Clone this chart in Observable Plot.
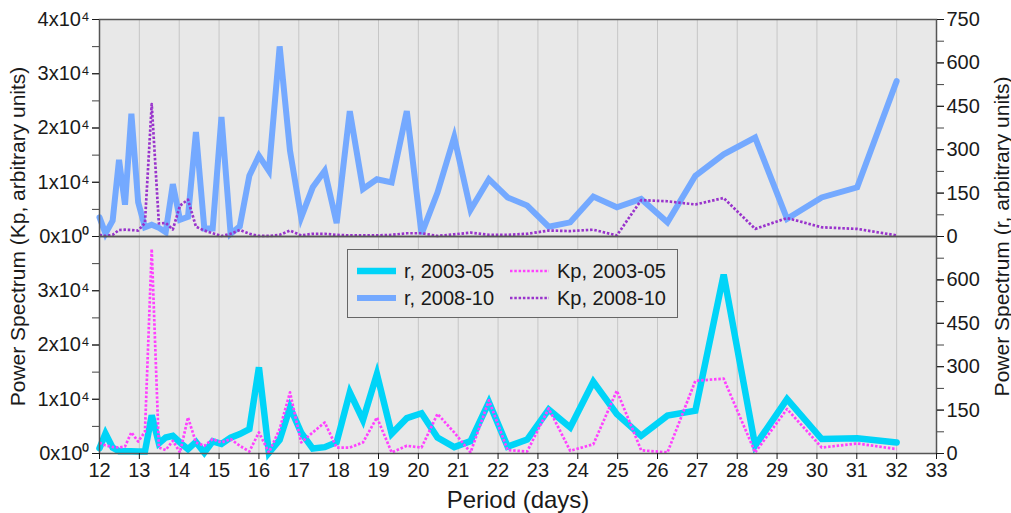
<!DOCTYPE html>
<html>
<head>
<meta charset="utf-8">
<script src="https://cdn.jsdelivr.net/npm/d3@7"></script>
<script src="https://cdn.jsdelivr.net/npm/@observablehq/plot@0.6"></script>
<style>
  html, body { margin: 0; padding: 0; background: #ffffff; }
  #chart { position: relative; width: 1011px; height: 513px; font-family: "Liberation Sans", Arial, sans-serif; color: #1a1a1a; }
  #chart g[aria-label="x-axis label"] { font-size: 24px; }
  #chart g[aria-label="y-axis label"] { font-size: 21px; }
  .legend { position: absolute; left: 347px; top: 249px; width: 331px; height: 69px; box-sizing: border-box;
            border: 1.5px solid #666; background: #e8e8e8; font-size: 20px; }
  .legend .item { position: absolute; display: flex; align-items: center; height: 24px; white-space: nowrap; }
  .legend svg { display: block; margin-right: 8px; }
</style>
</head>
<body>
<div id="chart"></div>
<script>
// Periods (days) at which the spectra were evaluated
const period = [12.00, 12.15, 12.33, 12.49, 12.64, 12.80, 12.97, 13.14, 13.31, 13.49,
  13.66, 13.84, 14.02, 14.22, 14.42, 14.63, 14.84, 15.06, 15.29, 15.52,
  15.76, 16.00, 16.25, 16.52, 16.78, 17.06, 17.35, 17.65, 17.95, 18.28,
  18.61, 18.96, 19.33, 19.71, 20.08, 20.48, 20.90, 21.31, 21.77, 22.24,
  22.73, 23.27, 23.81, 24.39, 24.98, 25.59, 26.25, 26.95, 27.66, 28.45,
  29.25, 30.12, 31.01, 32.00];

// Sunspot-number (r) power, right-hand units
const r2008_10 = [66, 10, 55, 265, 110, 424, 118, 32, 41, 30,
  15, 181, 58, 68, 361, 28, 28, 413, 9, 35,
  210, 279, 227, 657, 296, 66, 170, 227, 46, 433,
  164, 198, 187, 433, 9, 152, 344, 92, 198, 135,
  107, 34, 49, 138, 101, 130, 49, 210, 284, 342,
  61, 135, 170, 537];
const r2003_05 = [18, 69, 20, 8, 8, 8, 7, 7, 132, 35,
  55, 61, 38, 15, 40, 3, 42, 33, 55, 67,
  84, 298, 2, 47, 159, 72, 17, 22, 39, 211,
  116, 275, 68, 122, 139, 55, 22, 43, 177, 24,
  48, 152, 90, 248, 136, 61, 131, 148, 618, 27,
  188, 50, 53, 38];

// Kp index power, left-hand units
const kp2008_10 = [300, 100, 300, 1200, 1250, 1200, 1100, 2500, 24400, 2400,
  2500, 1300, 5700, 6800, 1800, 1100, 600, 100, 500, 1200,
  500, 100, 100, 300, 1100, 200, 500, 500, 300, 200,
  200, 200, 300, 600, 600, 100, 400, 700, 300, 300,
  500, 1100, 1000, 1250, 200, 6700, 6500, 5900, 7100, 1400,
  3400, 1700, 1400, 200];
const kp2003_05 = [2000, 1500, 1200, 1100, 1300, 3900, 2200, 4000, 37700, 1100,
  630, 2340, 190, 6650, 2030, 1420, 2660, 2030, 2660, 1420,
  370, 3900, 190, 4500, 11260, 2030, 3880, 5720, 1100, 1100,
  2030, 6650, 200, 1420, 1100, 7300, 3880, 190, 9800, 630,
  370, 8300, 500, 1700, 11570, 600, 200, 13400, 13800, 190,
  8200, 1100, 1850, 810];

const panels = ["2008-10", "2003-05"];
const dayTicks = d3.range(12, 34);

// Left axis (Kp) spans 0–4×10⁴, right axis (r) spans 0–750 over the same height
const KP_MAX = 40000, R_MAX = 750;
const rToKp = KP_MAX / R_MAX;

const colors = { r0305: "#00d4f8", r0810: "#74a9ff", kp0305: "#ff40ff", kp0810: "#9933cc" };

function series(values, panel, factor = 1) {
  return period.map((p, i) => ({ period: p, value: values[i] * factor, panel }));
}

const sup = { 0: "\u2070", 4: "\u2074" };
const kpFormat = d => d === 0 ? "0x10" + sup[0] : `${d / 10000}x10${sup[4]}`;
const rFormat = d => String(Math.round(d / rToKp));

const axisFont = { fontSize: 20, color: "#1a1a1a" };
const solid = { strokeLinejoin: "miter", strokeMiterlimit: 4 };
const dotted = { strokeWidth: 2.7, strokeDasharray: "2.5 1.8", strokeLinecap: "butt" };

const plot = Plot.plot({
  width: 1011,
  height: 513,
  marginLeft: 99,
  marginRight: 75,
  marginTop: 18,
  marginBottom: 60,
  style: { fontFamily: "Liberation Sans, Arial, sans-serif", background: "transparent", overflow: "visible", color: "#1a1a1a" },
  x: { domain: [12, 33] },
  y: { domain: [0, KP_MAX] },
  fy: { domain: panels, axis: null, padding: 0 },
  marks: [
    Plot.frame({ fill: "#e8e8e8" }),
    Plot.gridX(d3.range(13, 33), { stroke: "#c6c6c6", strokeOpacity: 1, strokeWidth: 1 }),

    // 2008-10 panel
    Plot.line(series(r2008_10, "2008-10", rToKp), { x: "period", y: "value", fy: "panel", stroke: colors.r0810, strokeWidth: 6, ...solid }),
    Plot.line(series(kp2008_10, "2008-10"), { x: "period", y: "value", fy: "panel", stroke: colors.kp0810, ...dotted }),

    // 2003-05 panel
    Plot.line(series(r2003_05, "2003-05", rToKp), { x: "period", y: "value", fy: "panel", stroke: colors.r0305, strokeWidth: 6.5, ...solid }),
    Plot.line(series(kp2003_05, "2003-05"), { x: "period", y: "value", fy: "panel", stroke: colors.kp0305, ...dotted }),

    Plot.frame({ stroke: "#555", strokeWidth: 1.5 }),

    // left axis: minor ticks every 5000 in both panels, labels per panel
    Plot.axisY({ anchor: "left", ticks: d3.range(0, KP_MAX + 1, 5000), tickSize: 7, tickFormat: () => "", stroke: "#444",
      label: "Power Spectrum (Kp, arbitrary units)", labelAnchor: "center", labelArrow: "none", labelOffset: 89, ...axisFont }),
    Plot.axisY({ anchor: "left", ticks: d3.range(0, KP_MAX + 1, 10000), tickSize: 7, tickFormat: kpFormat, facetAnchor: "top", label: null, ...axisFont }),
    Plot.axisY({ anchor: "left", ticks: d3.range(0, KP_MAX, 10000), tickSize: 7, tickFormat: kpFormat, facetAnchor: "bottom", label: null, ...axisFont }),

    // right axis: r units
    Plot.axisY({ anchor: "right", ticks: d3.range(0, R_MAX + 1, 75).map(v => v * rToKp), tickSize: 7, tickFormat: () => "", stroke: "#444",
      label: "Power Spectrum (r, arbitrary units)", labelAnchor: "center", labelArrow: "none", labelOffset: 72, ...axisFont }),
    Plot.axisY({ anchor: "right", ticks: d3.range(0, R_MAX + 1, 150).map(v => v * rToKp), tickSize: 7, tickFormat: rFormat, facetAnchor: "top", label: null, ...axisFont }),
    Plot.axisY({ anchor: "right", ticks: d3.range(0, R_MAX, 150).map(v => v * rToKp), tickSize: 7, tickFormat: rFormat, facetAnchor: "bottom", label: null, ...axisFont }),

    Plot.axisX({ ticks: dayTicks, tickSize: 6, tickFormat: d => String(d), label: "Period (days)", labelAnchor: "center", labelArrow: "none", labelOffset: 54, ...axisFont })
  ]
});

const chart = document.getElementById("chart");
chart.appendChild(plot);

// Legend
const legendItems = [
  { label: "r, 2003-05", color: colors.r0305, width: 6.5, dash: null, left: 9, top: 9 },
  { label: "r, 2008-10", color: colors.r0810, width: 6, dash: null, left: 9, top: 36 },
  { label: "Kp, 2003-05", color: colors.kp0305, width: 2.7, dash: "2.5 1.8", left: 162, top: 9 },
  { label: "Kp, 2008-10", color: colors.kp0810, width: 2.7, dash: "2.5 1.8", left: 162, top: 36 }
];
const legend = document.createElement("div");
legend.className = "legend";
for (const it of legendItems) {
  const item = document.createElement("div");
  item.className = "item";
  item.style.left = it.left + "px";
  item.style.top = it.top + "px";
  item.innerHTML = `<svg width="39" height="12"><line x1="0" x2="39" y1="6" y2="6" stroke="${it.color}" stroke-width="${it.width}"${it.dash ? ` stroke-dasharray="${it.dash}"` : ""}/></svg><span>${it.label}</span>`;
  legend.appendChild(item);
}
chart.appendChild(legend);
</script>
</body>
</html>
